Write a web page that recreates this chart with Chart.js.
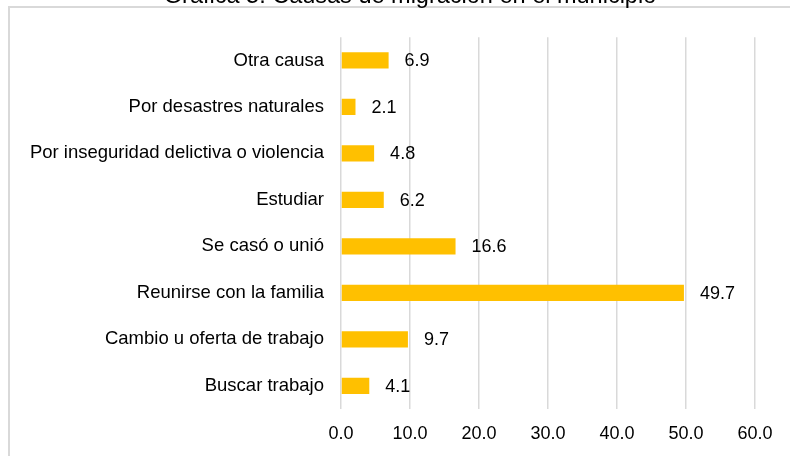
<!DOCTYPE html>
<html>
<head>
<meta charset="utf-8">
<script src="https://cdn.jsdelivr.net/npm/chart.js@4/dist/chart.umd.min.js"></script>
<style>
  body { margin: 0; background: #fff; overflow: hidden; }
  #marco { position: absolute; left: 8px; top: 6px; width: 900px; height: 500px; border: 2px solid #d9d9d9; }
  #grafica { position: absolute; left: 0; top: -20px; }
</style>
</head>
<body>
<div id="marco"></div>
<canvas id="grafica" width="790" height="476"></canvas>
<script>
// Causas de migración (%)
const causas = [
    'Otra causa',
    'Por desastres naturales',
    'Por inseguridad delictiva o violencia',
    'Estudiar',
    'Se casó o unió',
    'Reunirse con la familia',
    'Cambio u oferta de trabajo',
    'Buscar trabajo'
];
const porcentajes = [6.9, 2.1, 4.8, 6.2, 16.6, 49.7, 9.7, 4.1];
const ticksX = [0, 10, 20, 30, 40, 50, 60];

const fuente = "'Liberation Sans', Arial, sans-serif";

// Etiquetas de valor a la derecha de cada barra
const etiquetasValor = {
    id: 'etiquetasValor',
    afterDatasetsDraw(chart) {
        const ctx = chart.ctx;
        ctx.save();
        ctx.font = '18px ' + fuente;
        ctx.fillStyle = '#000';
        ctx.textAlign = 'left';
        ctx.textBaseline = 'middle';
        chart.getDatasetMeta(0).data.forEach((barra, i) => {
            ctx.fillText(porcentajes[i].toFixed(1), barra.x + 16, barra.y + 1);
        });
        ctx.restore();
    }
};

// Centrar el título como en el original
const moverTitulo = {
    id: 'moverTitulo',
    afterLayout(chart) {
        if (chart.titleBlock) {
            chart.titleBlock.left = 30;
            chart.titleBlock.right = 790;
        }
    }
};

new Chart(document.getElementById('grafica'), {
    type: 'bar',
    data: {
        labels: causas,
        datasets: [{
            data: porcentajes,
            backgroundColor: '#ffc000',
            borderWidth: 0,
            barPercentage: 0.35,
            categoryPercentage: 1
        }]
    },
    plugins: [etiquetasValor, moverTitulo],
    options: {
        indexAxis: 'y',
        responsive: false,
        animation: false,
        layout: { padding: { left: 0, right: 35, top: 0, bottom: 15 } },
        plugins: {
            legend: { display: false },
            tooltip: { enabled: false },
            title: {
                display: true,
                text: 'Gráfica 5. Causas de migración en el municipio',
                color: '#000',
                font: { family: fuente, size: 23.5, weight: 'normal' },
                padding: { top: 2, bottom: 27 }
            }
        },
        scales: {
            x: {
                min: 0,
                max: 60,
                afterBuildTicks: scale => { scale.ticks = ticksX.map(v => ({ value: v })); },
                afterFit: scale => { scale.height = 32; },
                grid: { color: '#d9d9d9', lineWidth: 1.5, drawTicks: false },
                border: { display: false },
                ticks: {
                    color: '#000',
                    padding: 14,
                    font: { family: fuente, size: 18 },
                    callback: v => Number(v).toFixed(1)
                }
            },
            y: {
                grid: { display: false, drawTicks: false },
                border: { display: false },
                afterFit: scale => { scale.width = 341; },
                ticks: {
                    color: '#000',
                    padding: 17,
                    font: { family: fuente, size: 18.5 }
                }
            }
        }
    }
});
</script>
</body>
</html>
